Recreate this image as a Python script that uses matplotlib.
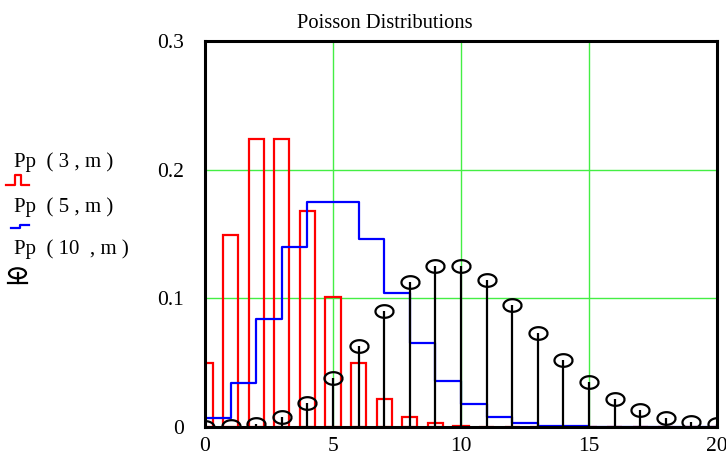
import numpy as np
import matplotlib.pyplot as plt
from matplotlib.path import Path
from matplotlib.lines import Line2D
from matplotlib.patches import Ellipse

plt.rcParams['font.family'] = ['Liberation Serif', 'DejaVu Serif']

# values, m = 0..20
m = np.arange(0, 21)
p3 = [0.050, 0.149, 0.224, 0.224, 0.168, 0.101, 0.050, 0.022, 0.008, 0.003,
      0.001, 0.0002, 0.0001, 0, 0, 0, 0, 0, 0, 0, 0]
p5 = [0.0067, 0.034, 0.084, 0.140, 0.175, 0.175, 0.146, 0.104, 0.065, 0.036,
      0.018, 0.008, 0.003, 0.001, 0.0005, 0.0002, 0.0001, 0, 0, 0, 0]
p10 = [0.00005, 0.0005, 0.002, 0.008, 0.019, 0.038, 0.063, 0.090, 0.113, 0.125,
       0.125, 0.114, 0.095, 0.073, 0.052, 0.035, 0.022, 0.013, 0.007, 0.004, 0.002]
legend_labels = ['Pp  ( 3 , m )', 'Pp  ( 5 , m )', 'Pp  ( 10  , m )']

W, H = 726, 455
fig = plt.figure(figsize=(W / 100, H / 100), dpi=100)
ax = fig.add_axes([205 / W, 1 - 427 / H, 512 / W, 386 / H])

# red open bars
ax.bar(m, p3, width=0.6, fill=False, edgecolor='red', linewidth=1.6, zorder=3)

# blue step
ax.step(m, p5, where='post', color='blue', linewidth=1.6, zorder=4)

# black stems with open ellipse on top
t = np.linspace(0, 2 * np.pi, 60)
ell = Path(np.column_stack([np.cos(t), 0.7 * np.sin(t)]))
ax.vlines(m, 0, p10, color='black', linewidth=1.6, zorder=5)
ax.plot(m, p10, linestyle='none', marker=ell, markersize=13,
        markerfacecolor='none', markeredgecolor='black', markeredgewidth=1.6, zorder=6)

ax.set_xlim(0, 20)
ax.set_ylim(0, 0.3)
ax.set_xticks([0, 5, 10, 15, 20])
ax.set_xticklabels(['0', '5', '10', '15', '20'])
ax.set_yticks([0, 0.1, 0.2, 0.3])
ax.set_yticklabels(['0', '0.1', '0.2', '0.3'])
ax.tick_params(length=0, labelsize=15.5)
ax.tick_params(axis='y', pad=15)
ax.tick_params(axis='x', pad=7)
ax.grid(True, color='#44ee44', linewidth=1)
ax.set_axisbelow(True)
for s in ax.spines.values():
    s.set_linewidth(2.2)
    s.set_color('black')
    s.set_zorder(7)

fig.text(385 / W, 1 - 28 / H, 'Poisson Distributions', ha='center', va='baseline', fontsize=14.8)

# legend on the left
ys = [161.7, 206.7, 249]
for lab, y in zip(legend_labels, ys):
    fig.text(14 / W, 1 - y / H, lab, ha='left', va='center', fontsize=15)


def px(xs, ys_):
    return [x / W for x in xs], [1 - y / H for y in ys_]


for xs, ys_, c in [
    ([6, 14.5, 14.5, 20.5, 20.5, 29], [185, 185, 175, 175, 185, 185], 'red'),
    ([11, 20, 20, 29], [228.3, 228.3, 225, 225], 'blue'),
    ([8, 27], [283.3, 283.3], 'black'),
    ([17.5, 17.5], [273.3, 283.3], 'black'),
]:
    fx, fy = px(xs, ys_)
    fig.add_artist(Line2D(fx, fy, color=c, linewidth=1.6))
fig.add_artist(Ellipse((17.5 / W, 1 - 273.3 / H), 17 / W, 10 / H,
                       fill=False, edgecolor='black', linewidth=1.6))

plt.savefig('out.png', dpi=100)
